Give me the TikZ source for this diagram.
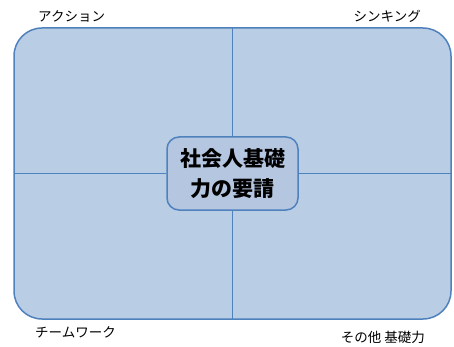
\documentclass[tikz,border=0pt]{standalone}
\usepackage{fontspec}
\newfontfamily\cjk{Noto Sans CJK JP}
\begin{document}
\begin{tikzpicture}[x=1pt,y=-1pt,
  lbl/.style={font=\cjk\fontsize{13.5}{16}\selectfont, inner sep=0pt}]
\definecolor{fillb}{HTML}{B9CDE5}
\definecolor{fillc}{HTML}{B4C6E0}
\definecolor{edgeb}{HTML}{4F81BD}
\useasboundingbox (0,0) rectangle (454,347);
\node[draw=edgeb, line width=1.5pt, fill=fillb, rounded corners=28pt,
  minimum width=437pt, minimum height=291pt, inner sep=0pt] (outer) at (232.5,173.5) {};
\coordinate (top) at (232.5,28);
\coordinate (bot) at (232.5,319);
\coordinate (lft) at (14,173.5);
\coordinate (rgt) at (451,173.5);
\node[draw=edgeb, line width=1.5pt, fill=fillc, rounded corners=12pt,
  minimum width=131pt, minimum height=73pt, inner sep=0pt, align=center,
  font=\cjk\bfseries\fontsize{21}{30}\selectfont] (core) at (232.5,173.5) {社会人基礎\\力の要請};
\draw[edgeb, line width=1.5pt] (top) -- (core.north);
\draw[edgeb, line width=1.5pt] (core.south) -- (bot);
\draw[edgeb, line width=1.5pt] (lft) -- (core.west);
\draw[edgeb, line width=1.5pt] (core.east) -- (rgt);
\node[lbl, anchor=west] (a) at (38,16) {アクション};
\node[lbl, anchor=east] (s) at (421,16) {シンキング};
\node[lbl, anchor=west] (t) at (35,332) {チームワーク};
\node[lbl, anchor=east] (o) at (425,337) {その他 基礎力};
\end{tikzpicture}
\end{document}
